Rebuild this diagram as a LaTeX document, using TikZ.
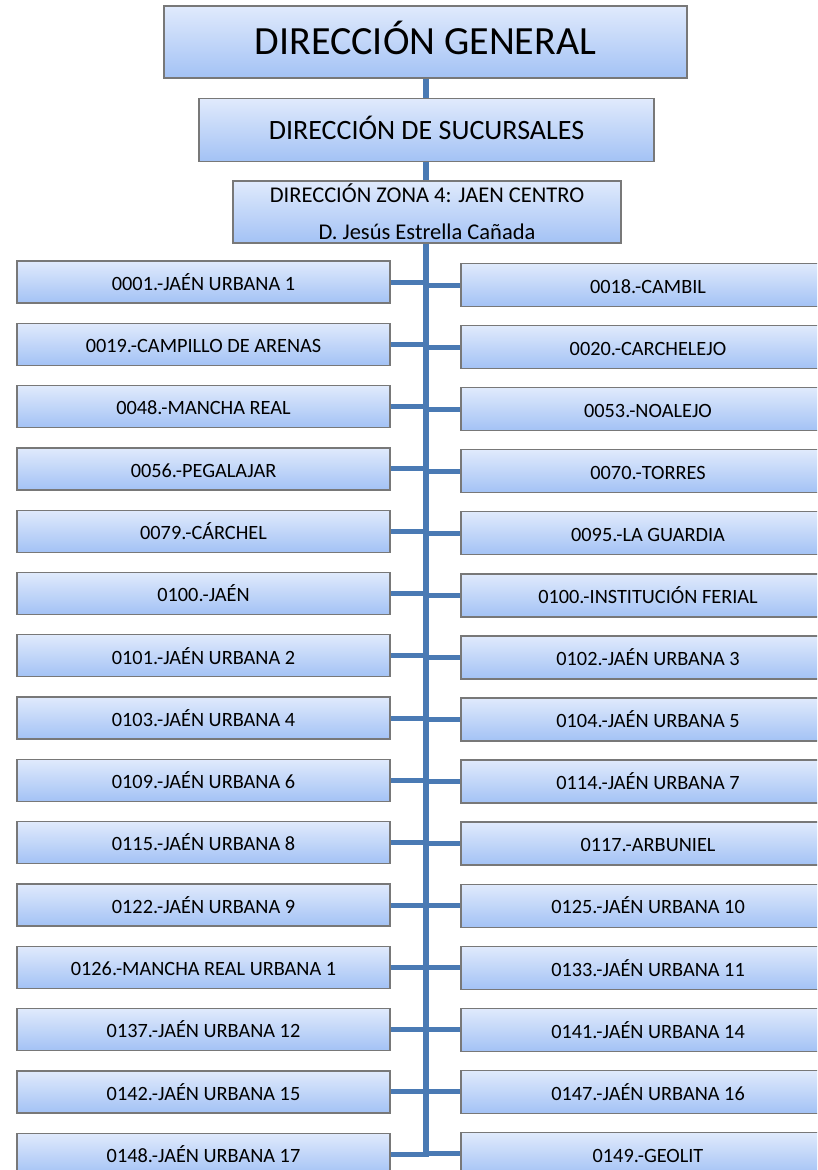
\documentclass[tikz,border=0pt]{standalone}
\usepackage{fontspec}
\setmainfont{Carlito}
\definecolor{conn}{RGB}{74,122,180}
\definecolor{boxtop}{RGB}{224,234,252}
\definecolor{boxbot}{RGB}{163,194,245}
\definecolor{boxline}{RGB}{120,120,120}
\tikzset{
  orgbox/.style={draw=boxline, line width=1.3pt, top color=boxtop, bottom color=boxbot,
    inner sep=0pt, align=center, text=black},
  leafbox/.style={orgbox, minimum height=42pt, font=\fontsize{20.3}{24}\selectfont,
    text height=16.5pt, text depth=0pt},
  trunkline/.style={draw=conn, line width=6pt},
  branchline/.style={draw=conn, line width=5pt}
}
\begin{document}
\begin{tikzpicture}[x=1pt,y=-1pt]
\useasboundingbox (0,0) rectangle (817,1170);
\clip (0,0) rectangle (817,1170);
\coordinate (tb) at (426,1156.5);
\node[orgbox, minimum width=523pt, minimum height=72pt, font=\fontsize{40}{48}\selectfont,
  text height=25.8pt, text depth=0pt] (gen) at (425.5,42) {DIRECCIÓN GENERAL};
\node[orgbox, minimum width=455pt, minimum height=63pt, font=\fontsize{28}{34}\selectfont,
  text height=18pt, text depth=0pt] (suc) at (426.5,130) {DIRECCIÓN DE SUCURSALES};
\node[orgbox, minimum width=388pt, minimum height=62pt, font=\fontsize{22.5}{37}\selectfont] (zon) at (427,212) {DIRECCIÓN ZONA 4: JAEN CENTRO\\D. Jesús Estrella Cañada};
\foreach \t [count=\i from 0] in {0001.-JAÉN URBANA 1,0019.-CAMPILLO DE ARENAS,0048.-MANCHA REAL,0056.-PEGALAJAR,0079.-CÁRCHEL,0100.-JAÉN,0101.-JAÉN URBANA 2,0103.-JAÉN URBANA 4,0109.-JAÉN URBANA 6,0115.-JAÉN URBANA 8,0122.-JAÉN URBANA 9,0126.-MANCHA REAL URBANA 1,0137.-JAÉN URBANA 12,0142.-JAÉN URBANA 15,0148.-JAÉN URBANA 17}{
  \node[leafbox, minimum width=373pt] (l\i) at (203.5,{282+62.3*\i}) {\t};
}
\foreach \t [count=\i from 0] in {0018.-CAMBIL,0020.-CARCHELEJO,0053.-NOALEJO,0070.-TORRES,0095.-LA GUARDIA,0100.-INSTITUCIÓN FERIAL,0102.-JAÉN URBANA 3,0104.-JAÉN URBANA 5,0114.-JAÉN URBANA 7,0117.-ARBUNIEL,0125.-JAÉN URBANA 10,0133.-JAÉN URBANA 11,0141.-JAÉN URBANA 14,0147.-JAÉN URBANA 16,0149.-GEOLIT}{
  \node[leafbox, minimum width=374pt, minimum height=43pt] (r\i) at (648,{285+62.07*\i}) {\t};
}
\draw[trunkline] (gen.south -| tb) -- (suc.north -| tb);
\draw[trunkline] (suc.south -| tb) -- (zon.north -| tb);
\draw[trunkline] (zon.south -| tb) -- (tb);
\foreach \i in {0,...,14}{
  \draw[branchline] (l\i.east) -- (l\i.east -| tb);
  \draw[branchline] (r\i.west) -- (r\i.west -| tb);
}
\end{tikzpicture}
\end{document}
